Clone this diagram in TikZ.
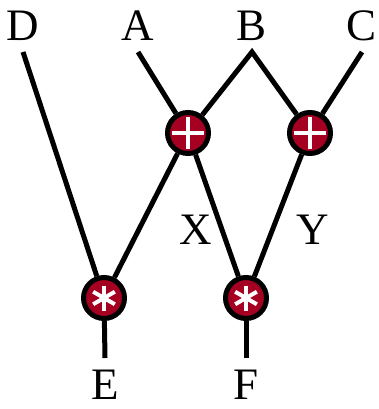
\documentclass[tikz,border=0pt]{standalone}
\usepackage{fontspec}
\setmainfont{Liberation Serif}
\definecolor{opred}{RGB}{165,0,33}

\begin{document}
\begin{tikzpicture}[x=1pt,y=-1pt,
    wire/.style={line width=5pt},
    var/.style={font=\fontsize{45pt}{48pt}\selectfont, inner sep=0pt, text height=30pt, text depth=0pt, outer sep=11pt},
    op/.style={circle, draw, line width=5pt, fill=opred, minimum size=41pt, inner sep=0pt},
    plusop/.style={op, path picture={
        \draw[white, line width=4pt] (path picture bounding box.center) +(-16pt,0pt) -- +(16pt,0pt)
          (path picture bounding box.center) +(0pt,-16pt) -- +(0pt,16pt);}},
    starop/.style={op, path picture={
        \foreach \a in {90,30,150}
          \draw[white, line width=4pt] (path picture bounding box.center) +(\a:12.5pt) -- +(\a+180:12.5pt);}},
  ]
  \useasboundingbox (0,0) rectangle (379,409);
  % inputs
  \node[var] (D) at (23,26) {D};
  \node[var] (A) at (138,26) {A};
  \node[var] (B) at (252,26) {B};
  \node[var] (C) at (362,26) {C};
  % operations
  \node[plusop] (p1) at (188,133) {};
  \node[plusop] (p2) at (310,133) {};
  \node[starop] (m1) at (104,298) {};
  \node[starop] (m2) at (246,298) {};
  % outputs
  \node[var] (E) at (105,384) {E};
  \node[var] (F) at (246,384) {F};
  % middle labels
  \node[var, outer sep=0pt] (X) at (196,229) {X};
  \node[var, outer sep=0pt] (Y) at (313,229) {Y};
  % wires
  \draw[wire] (D.south) -- (m1);
  \draw[wire] (A.south) -- (p1);
  \draw[wire] (p1) -- (B.south) -- (p2);
  \draw[wire] (C.south) -- (p2);
  \draw[wire] (p1) -- (m1);
  \draw[wire] (p1) -- (m2);
  \draw[wire] (p2) -- (m2);
  \draw[wire] (m1) -- (E.north);
  \draw[wire] (m2) -- (F.north);
\end{tikzpicture}
\end{document}
